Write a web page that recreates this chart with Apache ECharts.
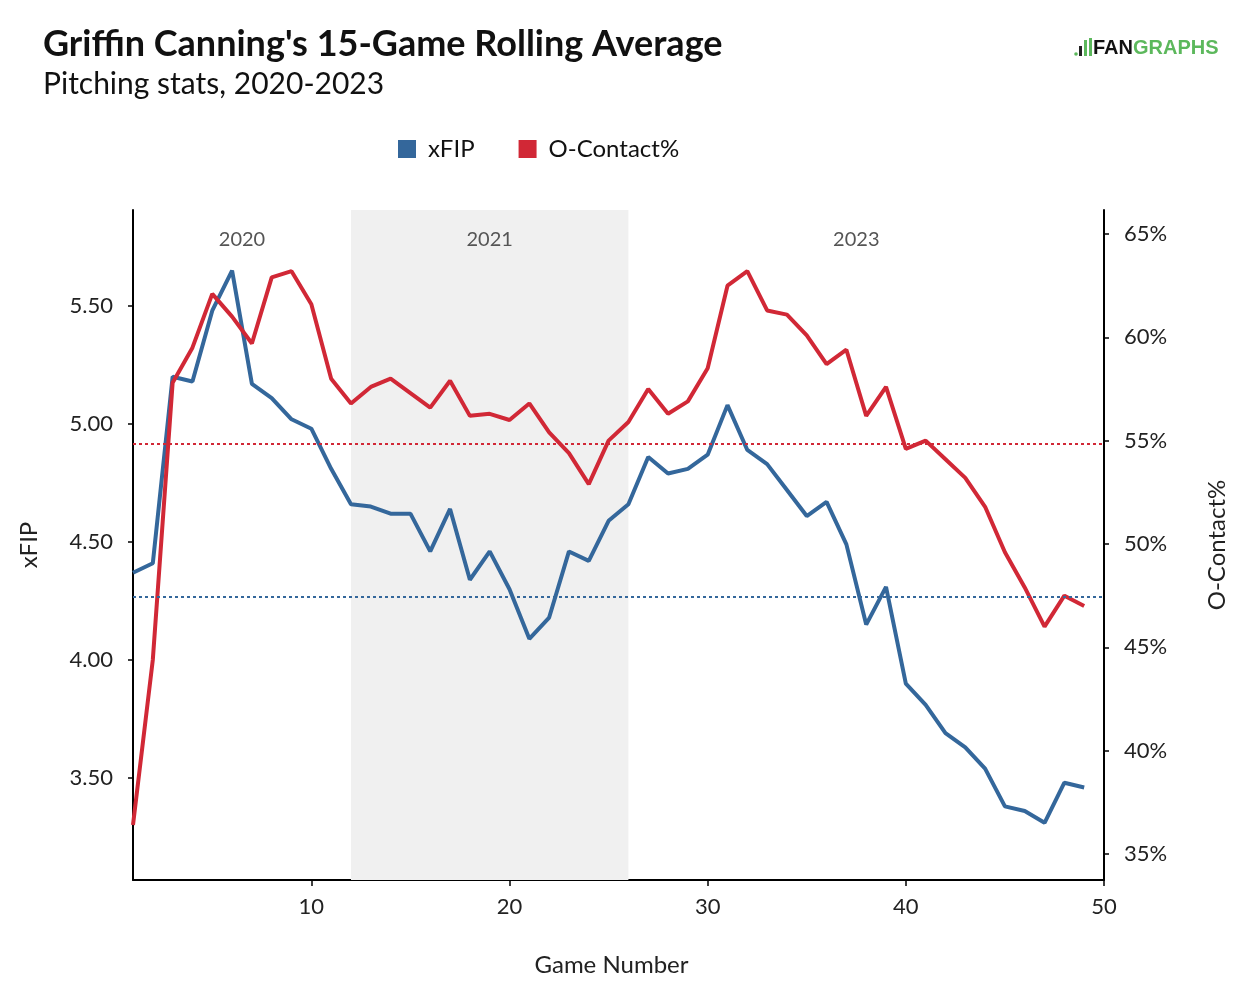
<!DOCTYPE html>
<html>
<head>
<meta charset="utf-8">
<script src="https://cdn.jsdelivr.net/npm/echarts@6/dist/echarts.min.js"></script>
<style>html,body{margin:0;padding:0;background:#fff}#c{width:1253px;height:993px}</style>
</head>
<body>
<div id="c"></div>
<script>
const games = [1,2,3,4,5,6,7,8,9,10,11,12,13,14,15,16,17,18,19,20,21,22,23,24,25,26,27,28,29,30,31,32,33,34,35,36,37,38,39,40,41,42,43,44,45,46,47,48,49];
const xfip = [4.37,4.41,5.20,5.18,5.48,5.65,5.17,5.11,5.02,4.98,4.81,4.66,4.65,4.62,4.62,4.46,4.64,4.34,4.46,4.30,4.09,4.18,4.46,4.42,4.59,4.66,4.86,4.79,4.81,4.87,5.08,4.89,4.83,4.72,4.61,4.67,4.49,4.15,4.31,3.90,3.81,3.69,3.63,3.54,3.38,3.36,3.31,3.48,3.46];
const oContact = [36.4,44.4,57.8,59.5,62.1,61.0,59.7,62.9,63.2,61.6,58.0,56.8,57.6,58.0,57.3,56.6,57.9,56.2,56.3,56.0,56.8,55.4,54.4,52.9,55.0,55.9,57.5,56.3,56.9,58.5,62.5,63.2,61.3,61.1,60.1,58.7,59.4,56.2,57.6,54.6,55.0,54.1,53.2,51.8,49.6,47.9,46.0,47.5,47.0];
const xfipMean = 4.27;
const oContactMean = 54.85;
const seasons = [
  {name: '2020', start: 1, end: 12},
  {name: '2021', start: 12, end: 26},
  {name: '2023', start: 26, end: 49}
];
const xTicks = [10,20,30,40,50];
const xfipTicks = [3.5,4.0,4.5,5.0,5.5];
const pctTicks = [35,40,45,50,55,60,65];

const BLUE = '#34679b';
const RED = '#d12836';
const FONT = 'Lato';

const chart = echarts.init(document.getElementById('c'), null, {renderer: 'canvas'});
const axisCommon = {
  axisLine: {show: true, lineStyle: {color: '#000', width: 2}},
  splitLine: {show: false},
  nameTextStyle: {fontFamily: FONT, fontSize: 24, color: '#222'}
};
const labelStyle = {fontFamily: FONT, fontSize: 22, color: '#222'};

chart.setOption({
  animation: false,
  backgroundColor: '#fff',
  textStyle: {fontFamily: FONT},
  title: [
    {text: "Griffin Canning's 15-Game Rolling Average", left: 38, top: 21,
     textStyle: {fontFamily: FONT, fontWeight: 'bold', fontSize: 36, color: '#111'}},
    {text: 'Pitching stats, 2020-2023', left: 38, top: 64,
     textStyle: {fontFamily: FONT, fontWeight: 'normal', fontSize: 30, color: '#111'}}
  ],
  graphic: [
    {type: 'circle', shape: {cx: 1076, cy: 54, r: 1.8}, style: {fill: '#5cb85c'}},
    {type: 'rect', shape: {x: 1079, y: 46, width: 3, height: 10}, style: {fill: '#222'}},
    {type: 'rect', shape: {x: 1084, y: 40, width: 3, height: 16}, style: {fill: '#5cb85c'}},
    {type: 'rect', shape: {x: 1089, y: 38, width: 3, height: 18}, style: {fill: '#5cb85c'}},
    {type: 'text', left: 1093, top: 38,
     style: {text: '{a|FAN}{b|GRAPHS}', rich: {
       a: {fontFamily: 'Liberation Sans', fontWeight: 'bold', fontSize: 20, fill: '#111'},
       b: {fontFamily: 'Liberation Sans', fontWeight: 'bold', fontSize: 20, fill: '#5cb85c'}
     }}}
  ],
  legend: {
    left: 393, top: 132, itemWidth: 18, itemHeight: 18, itemGap: 44,
    icon: 'rect',
    textStyle: {fontFamily: FONT, fontSize: 24, color: '#111', padding: [0,0,0,7]},
    data: ['xFIP', 'O-Contact%']
  },
  grid: {left: 133, right: 149, top: 210, bottom: 113, containLabel: false},
  xAxis: Object.assign({}, axisCommon, {
    type: 'value', min: 1, max: 50,
    name: 'Game Number', nameLocation: 'middle', nameGap: 73,
    nameTextStyle: {fontFamily: FONT, fontSize: 24, color: '#222', padding: [0, 14, 0, 0]},
    axisTick: {show: true, length: 6, customValues: xTicks, lineStyle: {color: '#000', width: 1.5}},
    axisLabel: Object.assign({customValues: xTicks, margin: 16}, labelStyle)
  }),
  yAxis: [
    Object.assign({}, axisCommon, {
      type: 'value', min: 3.0678, max: 5.9068, position: 'left',
      name: 'xFIP', nameLocation: 'middle', nameGap: 92, nameRotate: 90,
      axisTick: {show: true, length: 5, customValues: xfipTicks, lineStyle: {color: '#000', width: 1.5}},
      axisLabel: Object.assign({customValues: xfipTicks, formatter: v => v.toFixed(2), margin: 20}, labelStyle)
    }),
    Object.assign({}, axisCommon, {
      type: 'value', min: 33.742, max: 66.161, position: 'right',
      name: 'O-Contact%', nameLocation: 'middle', nameGap: 101, nameRotate: 90,
      axisTick: {show: true, length: 5, customValues: pctTicks, lineStyle: {color: '#000', width: 1.5}},
      axisLabel: Object.assign({customValues: pctTicks, formatter: v => v + '%', margin: 20}, labelStyle)
    })
  ],
  series: [
    {
      name: 'xFIP', type: 'line', yAxisIndex: 0, z: 3,
      data: games.map((g, i) => [g, xfip[i]]),
      showSymbol: false, symbol: 'none',
      lineStyle: {color: BLUE, width: 4}, itemStyle: {color: BLUE},
      markArea: {
        silent: true,
        data: seasons.map(s => [
          {xAxis: s.start, itemStyle: {color: s.name === '2021' ? '#f0f0f0' : 'rgba(0,0,0,0)'},
           label: {show: true, position: 'insideTop', distance: 20, formatter: s.name,
                   fontFamily: FONT, fontSize: 20, color: '#555'}},
          {xAxis: s.end}
        ])
      },
      markLine: {
        silent: true, symbol: 'none', label: {show: false},
        lineStyle: {color: BLUE, type: [3, 3], width: 2.2},
        data: [{yAxis: xfipMean}]
      }
    },
    {
      name: 'O-Contact%', type: 'line', yAxisIndex: 1, z: 3,
      data: games.map((g, i) => [g, oContact[i]]),
      showSymbol: false, symbol: 'none',
      lineStyle: {color: RED, width: 4}, itemStyle: {color: RED},
      markLine: {
        silent: true, symbol: 'none', label: {show: false},
        lineStyle: {color: RED, type: [3, 3], width: 2.2},
        data: [{yAxis: oContactMean}]
      }
    }
  ]
});
</script>
</body>
</html>
